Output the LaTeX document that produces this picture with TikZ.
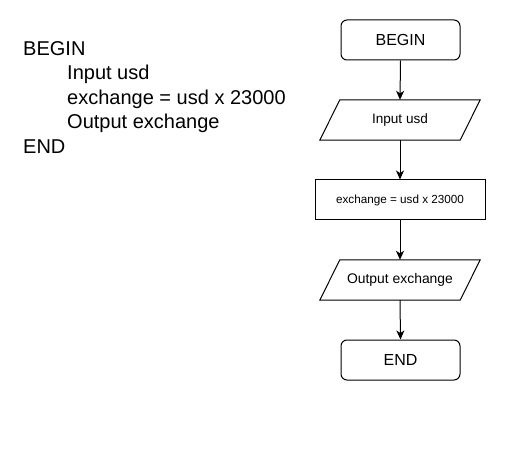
\documentclass[tikz,border=0pt]{standalone}
\usepackage{fontspec}
\setmainfont{Liberation Sans}
\usetikzlibrary{arrows.meta,calc}
\begin{document}
\begin{tikzpicture}[x=1pt,y=-1pt,
  term/.style={draw,rounded corners=6pt,minimum width=119pt,minimum height=40pt,line width=1pt,font=\fontsize{16}{18}\selectfont},
  proc/.style={draw,minimum width=170pt,minimum height=40pt,line width=1pt,font=\fontsize{11.7}{13}\selectfont},
  iobox/.style={minimum width=160pt,minimum height=40pt,inner sep=0pt},
  flow/.style={line width=1pt,-{Stealth[length=9pt,width=8pt,inset=2.5pt]}},
  code/.style={anchor=base west,inner sep=0pt,font=\fontsize{20}{22}\selectfont}]
\useasboundingbox (0,0) rectangle (506,449);
% pseudocode
\node[code] (c1) at (23,55.5) {BEGIN};
\node[code] (c2) at (67,80) {Input usd};
\node[code] (c3) at (67,104.5) {exchange = usd x 23000};
\node[code] (c4) at (67,129) {Output exchange};
\node[code] (c5) at (23,153.5) {END};
% flowchart
\node[term] (b) at (400.5,40) {BEGIN};
\node[iobox,font=\fontsize{13.6}{15}\selectfont] (in) at (400,120) {Input usd};
\draw[line width=1pt] ($(in.north west)+(20,0)$) -- (in.north east) -- ($(in.south east)+(-20,0)$) -- (in.south west) -- cycle;
\node[proc] (ex) at (400,200) {exchange = usd x 23000};
\node[iobox,font=\fontsize{13.9}{15}\selectfont] (out) at (400,280) {Output exchange};
\draw[line width=1pt] ($(out.north west)+(20,0)$) -- (out.north east) -- ($(out.south east)+(-20,0)$) -- (out.south west) -- cycle;
\node[term] (e) at (400.5,360) {END};
\draw[flow] (b.south) -- (in.north);
\draw[flow] (in.south) -- (ex.north);
\draw[flow] (ex.south) -- (out.north);
\draw[flow] (out.south) -- (e.north);
\end{tikzpicture}
\end{document}
